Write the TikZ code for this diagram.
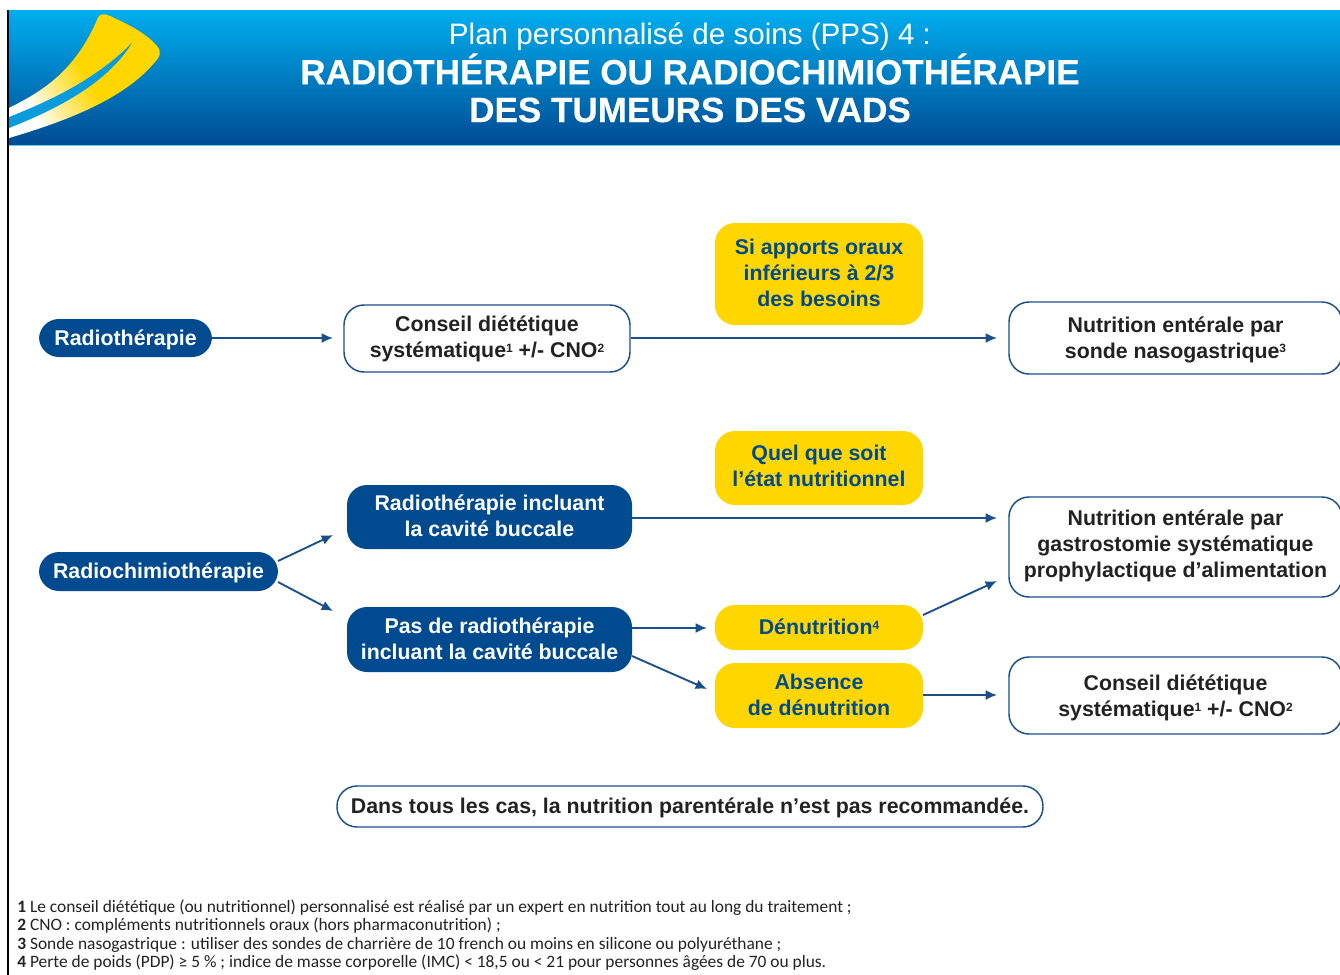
\documentclass[tikz,border=0pt]{standalone}
\usepackage{fontspec}
\setmainfont{Liberation Sans}
\newfontfamily\notefont{Carlito}
\usetikzlibrary{arrows.meta,calc}
\definecolor{navy}{HTML}{004A8F}
\definecolor{linecol}{HTML}{1B4F8A}
\definecolor{sunny}{HTML}{FFD600}
\definecolor{topblue}{HTML}{00AEEF}
\definecolor{botblue}{HTML}{004B93}
\definecolor{midblue}{HTML}{0A9BDD}
\definecolor{inkc}{HTML}{222222}
\pgfdeclarehorizontalshading{wing}{100bp}{color(0bp)=(white); color(27bp)=(white); color(50bp)=(sunny); color(100bp)=(sunny)}
\tikzset{
  x=0.75pt,y=-0.75pt,
  bluebox/.style={fill=navy,rounded corners=15pt,text=white,font=\bfseries\fontsize{16}{19.5}\selectfont,inner sep=0pt},
  yellowbox/.style={fill=sunny,rounded corners=15pt,text=navy,font=\bfseries\fontsize{16}{19.5}\selectfont,inner sep=0pt},
  whitebox/.style={draw=linecol,line width=1.1pt,fill=white,rounded corners=15pt,text=inkc,font=\bfseries\fontsize{16}{19.5}\selectfont,inner sep=0pt},
  conn/.style={draw=linecol,line width=1.4pt,-{Latex[length=8.5pt,width=7.5pt]}},
  titlea/.style={text=white,font=\fontsize{22.2}{24}\selectfont,inner sep=0pt},
  titleb/.style={text=white,font=\bfseries\fontsize{26.3}{30}\selectfont\addfontfeature{FakeBold=0.4},inner sep=0pt},
  notes/.style={text=inkc,font=\notefont\fontsize{13.05}{13.9}\selectfont,align=left,anchor=north west,inner sep=0pt},
}
% style, name, text, x0, x1, y0, y1, text drop in px
\newcommand{\boxat}[8]{\node[#1,minimum width=#5*0.75pt-#4*0.75pt,minimum height=#7*0.75pt-#6*0.75pt] (#2) at ({(#4+#5)/2},{(#6+#7)/2}) {\raisebox{\dimexpr-#8pt*3/4\relax}[\height][\depth]{\begin{tabular}{@{}c@{}}#3\end{tabular}}};}
\newcommand{\sups}[1]{\raisebox{4.2pt}{\fontsize{9}{9}\selectfont #1}}
\begin{document}
\begin{tikzpicture}
\useasboundingbox (0,0) rectangle (1340,975);
\fill[white] (0,0) rectangle (1340,975);
% header
\shade[top color=topblue,bottom color=botblue] (8,10) rectangle (1340,145);
\fill[topblue!60] (8,144.5) rectangle (1340,145.5);
\fill[black] (7,10) rectangle (9,975);
% logo
\begin{scope}
\clip (9,10) rectangle (170,145);
\shade[shading=wing,shading angle=30]
  (9,108) .. controls (45,90) and (75,70) .. (97,20)
  .. controls (99,13) and (104,13) .. (110,16)
  .. controls (125,23) and (145,32) .. (157,46)
  .. controls (162,52) and (160,57) .. (155,62)
  .. controls (125,98) and (70,120) .. (9,138) -- cycle;
\fill[midblue] (9,117) .. controls (60,97) and (100,75) .. (132,43)
  .. controls (110,78) and (70,104) .. (9,128) -- cycle;
\end{scope}
% title
\node[titlea] (t1) at (690,37) {Plan personnalisé de soins (PPS) 4 :};
\node[titleb] (t2) at (690,69) {RADIOTHÉRAPIE OU RADIOCHIMIOTHÉRAPIE};
\node[titleb] (t3) at (690,110) {DES TUMEURS DES VADS};
% nodes
\boxat{bluebox}{radio}{Radiothérapie}{39}{212}{319}{357}{2}
\boxat{whitebox}{cons}{Conseil diététique\\systématique\sups{1} +/- CNO\sups{2}}{344}{630}{305}{372}{1}
\boxat{yellowbox}{si}{Si apports oraux\\inférieurs à 2/3\\des besoins}{715}{923}{223}{325}{1}
\boxat{whitebox}{nsg}{Nutrition entérale par\\sonde nasogastrique\sups{3}}{1009}{1342}{302}{374}{2}
\boxat{yellowbox}{quel}{Quel que soit\\l’état nutritionnel}{715}{923}{431}{505}{0.5}
\boxat{bluebox}{incl}{Radiothérapie incluant\\la cavité buccale}{347}{632}{485}{549}{1}
\boxat{whitebox}{gast}{Nutrition entérale par\\gastrostomie systématique\\prophylactique d’alimentation}{1009}{1342}{497}{597}{-1}
\boxat{bluebox}{chimio}{Radiochimiothérapie}{39}{278}{552}{591}{2}
\boxat{bluebox}{pas}{Pas de radiothérapie\\incluant la cavité buccale}{347}{632}{607}{672}{2}
\boxat{yellowbox}{denu}{Dénutrition\sups{4}}{715}{923}{605}{650}{2}
\boxat{yellowbox}{abs}{Absence\\de dénutrition}{715}{923}{663}{728}{2}
\boxat{whitebox}{cons2}{Conseil diététique\\systématique\sups{1} +/- CNO\sups{2}}{1009}{1342}{657}{734}{3}
\boxat{whitebox}{dans}{Dans tous les cas, la nutrition parentérale n’est pas recommandée.}{337}{1043}{786}{827}{2}
% ports
\coordinate (p1) at (333,338);
\coordinate (p2) at (997,338);
\coordinate (p3) at (997,518);
\coordinate (c1) at (278,561);
\coordinate (c2) at (333,535);
\coordinate (c3) at (278,582);
\coordinate (c4) at (333,611);
\coordinate (pa) at (632,628);
\coordinate (pb) at (707,628);
\coordinate (pc) at (632,656);
\coordinate (pd) at (707,689);
\coordinate (da) at (923,615);
\coordinate (db) at (997,581);
\coordinate (ea) at (923,695);
\coordinate (eb) at (997,695);
% connectors
\draw[conn] (radio.east |- p1) -- (p1);
\draw[conn] (cons.east |- p2) -- (p2);
\draw[conn] (incl.east |- p3) -- (p3);
\draw[conn] (c1) -- (c2);
\draw[conn] (c3) -- (c4);
\draw[conn] (pa) -- (pb);
\draw[conn] (pc) -- (pd);
\draw[conn] (da) -- (db);
\draw[conn] (ea) -- (eb);
% notes
\node[notes] (n) at (17,899) {\textbf{1} Le conseil diététique (ou nutritionnel) personnalisé est réalisé par un expert en nutrition tout au long du traitement ;\\
\textbf{2} CNO : compléments nutritionnels oraux (hors pharmaconutrition) ;\\
\textbf{3} Sonde nasogastrique : utiliser des sondes de charrière de 10 french ou moins en silicone ou polyuréthane ;\\
\textbf{4} Perte de poids (PDP) ≥ 5 \% ; indice de masse corporelle (IMC) < 18,5 ou < 21 pour personnes âgées de 70 ou plus.};
\end{tikzpicture}
\end{document}
